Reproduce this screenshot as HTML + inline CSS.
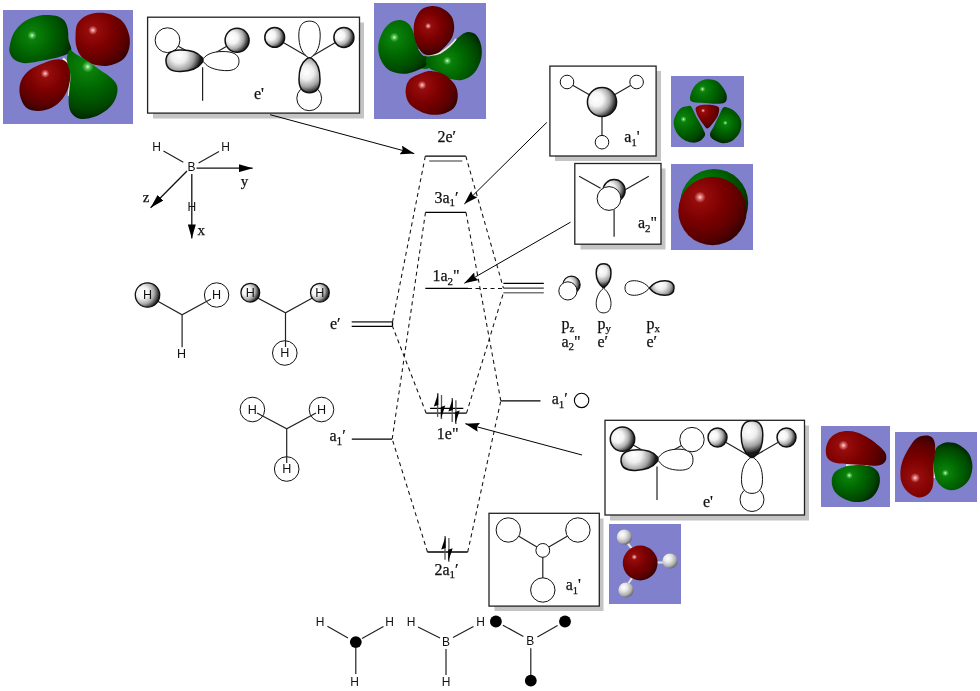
<!DOCTYPE html>
<html><head><meta charset="utf-8"><style>
html,body{margin:0;padding:0;background:#fff;width:980px;height:691px;overflow:hidden}
svg{display:block;will-change:transform}
.t{font-family:"Liberation Serif",serif;fill:#111;stroke:#111;stroke-width:0.25px}
.s{font-family:"Liberation Sans",sans-serif;fill:#111}
</style></head><body>
<svg width="980" height="691" viewBox="0 0 980 691">
<defs>
<radialGradient id="sph" cx="0.38" cy="0.36" r="0.68">
<stop offset="0" stop-color="#fff"/><stop offset="0.45" stop-color="#b8b8b8"/><stop offset="0.85" stop-color="#3a3a3a"/><stop offset="1" stop-color="#111"/>
</radialGradient>
<radialGradient id="red" cx="0.35" cy="0.35" r="0.75">
<stop offset="0" stop-color="#f4b0b0"/><stop offset="0.12" stop-color="#b02020"/><stop offset="0.5" stop-color="#800000"/><stop offset="1" stop-color="#3c0000"/>
</radialGradient>
<radialGradient id="grn" cx="0.35" cy="0.35" r="0.75">
<stop offset="0" stop-color="#b8f0b8"/><stop offset="0.12" stop-color="#20a020"/><stop offset="0.5" stop-color="#007a00"/><stop offset="1" stop-color="#003800"/>
</radialGradient>
<marker id="ah" viewBox="0 0 14 9" refX="14" refY="4.5" markerWidth="14" markerHeight="9" markerUnits="userSpaceOnUse" orient="auto">
<path d="M0,0 L14,4.5 L0,9 L2,4.5 Z" fill="#000"/>
</marker>
<marker id="ah2" viewBox="0 0 14 8" refX="14" refY="4" markerWidth="14" markerHeight="8" markerUnits="userSpaceOnUse" orient="auto"><path d="M0,0 L14,4 L0,8 Z" fill="#000"/></marker>
<radialGradient id="g1" gradientUnits="userSpaceOnUse" cx="32.1" cy="35.4" r="41.2"><stop offset="0" stop-color="#d8ffd8"/><stop offset="0.045" stop-color="#58c058"/><stop offset="0.11" stop-color="#0a800a"/><stop offset="0.45" stop-color="#006600"/><stop offset="0.8" stop-color="#004600"/><stop offset="1" stop-color="#002600"/></radialGradient>
<radialGradient id="g2" gradientUnits="userSpaceOnUse" cx="92.9" cy="30.2" r="41.8"><stop offset="0" stop-color="#ffd8d8"/><stop offset="0.045" stop-color="#d87070"/><stop offset="0.11" stop-color="#960c0c"/><stop offset="0.45" stop-color="#7c0000"/><stop offset="0.8" stop-color="#5a0000"/><stop offset="1" stop-color="#360000"/></radialGradient>
<radialGradient id="g3" gradientUnits="userSpaceOnUse" cx="45.2" cy="73.6" r="38.9"><stop offset="0" stop-color="#ffd8d8"/><stop offset="0.045" stop-color="#d87070"/><stop offset="0.11" stop-color="#960c0c"/><stop offset="0.45" stop-color="#7c0000"/><stop offset="0.8" stop-color="#5a0000"/><stop offset="1" stop-color="#360000"/></radialGradient>
<radialGradient id="g4" gradientUnits="userSpaceOnUse" cx="87.7" cy="66.7" r="52.7"><stop offset="0" stop-color="#d8ffd8"/><stop offset="0.045" stop-color="#58c058"/><stop offset="0.11" stop-color="#0a800a"/><stop offset="0.45" stop-color="#006600"/><stop offset="0.8" stop-color="#004600"/><stop offset="1" stop-color="#002600"/></radialGradient>
<radialGradient id="g5" gradientUnits="userSpaceOnUse" cx="394.3" cy="37.3" r="42.5"><stop offset="0" stop-color="#d8ffd8"/><stop offset="0.045" stop-color="#58c058"/><stop offset="0.11" stop-color="#0a800a"/><stop offset="0.45" stop-color="#006600"/><stop offset="0.8" stop-color="#004600"/><stop offset="1" stop-color="#002600"/></radialGradient>
<radialGradient id="g6" gradientUnits="userSpaceOnUse" cx="447.3" cy="60.8" r="38.7"><stop offset="0" stop-color="#d8ffd8"/><stop offset="0.045" stop-color="#58c058"/><stop offset="0.11" stop-color="#0a800a"/><stop offset="0.45" stop-color="#006600"/><stop offset="0.8" stop-color="#004600"/><stop offset="1" stop-color="#002600"/></radialGradient>
<radialGradient id="g7" gradientUnits="userSpaceOnUse" cx="428.2" cy="26.0" r="28.9"><stop offset="0" stop-color="#ffd8d8"/><stop offset="0.045" stop-color="#d87070"/><stop offset="0.11" stop-color="#960c0c"/><stop offset="0.45" stop-color="#7c0000"/><stop offset="0.8" stop-color="#5a0000"/><stop offset="1" stop-color="#360000"/></radialGradient>
<radialGradient id="g8" gradientUnits="userSpaceOnUse" cx="422.1" cy="85.1" r="39.1"><stop offset="0" stop-color="#ffd8d8"/><stop offset="0.045" stop-color="#d87070"/><stop offset="0.11" stop-color="#960c0c"/><stop offset="0.45" stop-color="#7c0000"/><stop offset="0.8" stop-color="#5a0000"/><stop offset="1" stop-color="#360000"/></radialGradient>
<radialGradient id="g9" gradientUnits="userSpaceOnUse" cx="702.5" cy="89.1" r="26.4"><stop offset="0" stop-color="#d8ffd8"/><stop offset="0.045" stop-color="#58c058"/><stop offset="0.11" stop-color="#0a800a"/><stop offset="0.45" stop-color="#006600"/><stop offset="0.8" stop-color="#004600"/><stop offset="1" stop-color="#002600"/></radialGradient>
<radialGradient id="g10" gradientUnits="userSpaceOnUse" cx="703.1" cy="110.6" r="18.3"><stop offset="0" stop-color="#ffd8d8"/><stop offset="0.045" stop-color="#d87070"/><stop offset="0.11" stop-color="#960c0c"/><stop offset="0.45" stop-color="#7c0000"/><stop offset="0.8" stop-color="#5a0000"/><stop offset="1" stop-color="#360000"/></radialGradient>
<radialGradient id="g11" gradientUnits="userSpaceOnUse" cx="683.5" cy="119.2" r="27.2"><stop offset="0" stop-color="#d8ffd8"/><stop offset="0.045" stop-color="#58c058"/><stop offset="0.11" stop-color="#0a800a"/><stop offset="0.45" stop-color="#006600"/><stop offset="0.8" stop-color="#004600"/><stop offset="1" stop-color="#002600"/></radialGradient>
<radialGradient id="g12" gradientUnits="userSpaceOnUse" cx="725.3" cy="122.9" r="20.5"><stop offset="0" stop-color="#d8ffd8"/><stop offset="0.045" stop-color="#58c058"/><stop offset="0.11" stop-color="#0a800a"/><stop offset="0.45" stop-color="#006600"/><stop offset="0.8" stop-color="#004600"/><stop offset="1" stop-color="#002600"/></radialGradient>
<radialGradient id="g13" gradientUnits="userSpaceOnUse" cx="702.3" cy="191.1" r="49.3"><stop offset="0" stop-color="#d8ffd8"/><stop offset="0.045" stop-color="#58c058"/><stop offset="0.11" stop-color="#0a800a"/><stop offset="0.45" stop-color="#006600"/><stop offset="0.8" stop-color="#004600"/><stop offset="1" stop-color="#002600"/></radialGradient>
<radialGradient id="g14" gradientUnits="userSpaceOnUse" cx="700.0" cy="197.2" r="52.0"><stop offset="0" stop-color="#ffd8d8"/><stop offset="0.045" stop-color="#d87070"/><stop offset="0.11" stop-color="#960c0c"/><stop offset="0.45" stop-color="#7c0000"/><stop offset="0.8" stop-color="#5a0000"/><stop offset="1" stop-color="#360000"/></radialGradient>
<radialGradient id="g15" gradientUnits="userSpaceOnUse" cx="849.3" cy="475.4" r="31.8"><stop offset="0" stop-color="#d8ffd8"/><stop offset="0.045" stop-color="#58c058"/><stop offset="0.11" stop-color="#0a800a"/><stop offset="0.45" stop-color="#006600"/><stop offset="0.8" stop-color="#004600"/><stop offset="1" stop-color="#002600"/></radialGradient>
<radialGradient id="g16" gradientUnits="userSpaceOnUse" cx="843.4" cy="445.4" r="44.8"><stop offset="0" stop-color="#ffd8d8"/><stop offset="0.045" stop-color="#d87070"/><stop offset="0.11" stop-color="#960c0c"/><stop offset="0.45" stop-color="#7c0000"/><stop offset="0.8" stop-color="#5a0000"/><stop offset="1" stop-color="#360000"/></radialGradient>
<radialGradient id="g17" gradientUnits="userSpaceOnUse" cx="945.3" cy="473.0" r="31.4"><stop offset="0" stop-color="#d8ffd8"/><stop offset="0.045" stop-color="#58c058"/><stop offset="0.11" stop-color="#0a800a"/><stop offset="0.45" stop-color="#006600"/><stop offset="0.8" stop-color="#004600"/><stop offset="1" stop-color="#002600"/></radialGradient>
<radialGradient id="g18" gradientUnits="userSpaceOnUse" cx="915.2" cy="477.9" r="43.9"><stop offset="0" stop-color="#ffd8d8"/><stop offset="0.045" stop-color="#d87070"/><stop offset="0.11" stop-color="#960c0c"/><stop offset="0.45" stop-color="#7c0000"/><stop offset="0.8" stop-color="#5a0000"/><stop offset="1" stop-color="#360000"/></radialGradient>
<radialGradient id="g19" gradientUnits="userSpaceOnUse" cx="634.3" cy="557.0" r="26.0"><stop offset="0" stop-color="#ffd8d8"/><stop offset="0.045" stop-color="#d87070"/><stop offset="0.11" stop-color="#960c0c"/><stop offset="0.45" stop-color="#7c0000"/><stop offset="0.8" stop-color="#5a0000"/><stop offset="1" stop-color="#360000"/></radialGradient>
<radialGradient id="g20" gradientUnits="userSpaceOnUse" cx="622.1" cy="534.5" r="10.6"><stop offset="0" stop-color="#ffffff"/><stop offset="0.35" stop-color="#e8e8e8"/><stop offset="0.75" stop-color="#b0b0b0"/><stop offset="1" stop-color="#6a6a70"/></radialGradient>
<radialGradient id="g21" gradientUnits="userSpaceOnUse" cx="667.7" cy="558.3" r="10.6"><stop offset="0" stop-color="#ffffff"/><stop offset="0.35" stop-color="#e8e8e8"/><stop offset="0.75" stop-color="#b0b0b0"/><stop offset="1" stop-color="#6a6a70"/></radialGradient>
<radialGradient id="g22" gradientUnits="userSpaceOnUse" cx="623.7" cy="587.3" r="10.6"><stop offset="0" stop-color="#ffffff"/><stop offset="0.35" stop-color="#e8e8e8"/><stop offset="0.75" stop-color="#b0b0b0"/><stop offset="1" stop-color="#6a6a70"/></radialGradient>
<radialGradient id="g23" gradientUnits="userSpaceOnUse" cx="178.8" cy="55.3" r="22.0"><stop offset="0" stop-color="#ffffff"/><stop offset="0.35" stop-color="#eeeeee"/><stop offset="0.7" stop-color="#a0a0a0"/><stop offset="0.9" stop-color="#484848"/><stop offset="1" stop-color="#1a1a1a"/></radialGradient>
<radialGradient id="g24" gradientUnits="userSpaceOnUse" cx="232.3" cy="37.8" r="17.4"><stop offset="0" stop-color="#ffffff"/><stop offset="0.33" stop-color="#f4f4f4"/><stop offset="0.64" stop-color="#acacac"/><stop offset="0.87" stop-color="#404040"/><stop offset="1" stop-color="#0a0a0a"/></radialGradient>
<radialGradient id="g25" gradientUnits="userSpaceOnUse" cx="270.7" cy="35.4" r="14.4"><stop offset="0" stop-color="#ffffff"/><stop offset="0.33" stop-color="#f4f4f4"/><stop offset="0.64" stop-color="#acacac"/><stop offset="0.87" stop-color="#404040"/><stop offset="1" stop-color="#0a0a0a"/></radialGradient>
<radialGradient id="g26" gradientUnits="userSpaceOnUse" cx="339.9" cy="35.4" r="14.5"><stop offset="0" stop-color="#ffffff"/><stop offset="0.33" stop-color="#f4f4f4"/><stop offset="0.64" stop-color="#acacac"/><stop offset="0.87" stop-color="#404040"/><stop offset="1" stop-color="#0a0a0a"/></radialGradient>
<radialGradient id="g27" gradientUnits="userSpaceOnUse" cx="306.4" cy="72.4" r="20.8"><stop offset="0" stop-color="#ffffff"/><stop offset="0.35" stop-color="#eeeeee"/><stop offset="0.7" stop-color="#a0a0a0"/><stop offset="0.9" stop-color="#484848"/><stop offset="1" stop-color="#1a1a1a"/></radialGradient>
<radialGradient id="g28" gradientUnits="userSpaceOnUse" cx="596.2" cy="99.1" r="21.2"><stop offset="0" stop-color="#ffffff"/><stop offset="0.33" stop-color="#f4f4f4"/><stop offset="0.64" stop-color="#acacac"/><stop offset="0.87" stop-color="#404040"/><stop offset="1" stop-color="#0a0a0a"/></radialGradient>
<radialGradient id="g29" gradientUnits="userSpaceOnUse" cx="609.7" cy="188.4" r="15.9"><stop offset="0" stop-color="#ffffff"/><stop offset="0.33" stop-color="#f4f4f4"/><stop offset="0.64" stop-color="#acacac"/><stop offset="0.87" stop-color="#404040"/><stop offset="1" stop-color="#0a0a0a"/></radialGradient>
<radialGradient id="g30" gradientUnits="userSpaceOnUse" cx="617.6" cy="436.7" r="17.7"><stop offset="0" stop-color="#ffffff"/><stop offset="0.33" stop-color="#f4f4f4"/><stop offset="0.64" stop-color="#acacac"/><stop offset="0.87" stop-color="#404040"/><stop offset="1" stop-color="#0a0a0a"/></radialGradient>
<radialGradient id="g31" gradientUnits="userSpaceOnUse" cx="633.9" cy="454.9" r="22.0"><stop offset="0" stop-color="#ffffff"/><stop offset="0.35" stop-color="#eeeeee"/><stop offset="0.7" stop-color="#a0a0a0"/><stop offset="0.9" stop-color="#484848"/><stop offset="1" stop-color="#1a1a1a"/></radialGradient>
<radialGradient id="g32" gradientUnits="userSpaceOnUse" cx="713.7" cy="435.6" r="13.8"><stop offset="0" stop-color="#ffffff"/><stop offset="0.33" stop-color="#f4f4f4"/><stop offset="0.64" stop-color="#acacac"/><stop offset="0.87" stop-color="#404040"/><stop offset="1" stop-color="#0a0a0a"/></radialGradient>
<radialGradient id="g33" gradientUnits="userSpaceOnUse" cx="782.7" cy="435.6" r="13.8"><stop offset="0" stop-color="#ffffff"/><stop offset="0.33" stop-color="#f4f4f4"/><stop offset="0.64" stop-color="#acacac"/><stop offset="0.87" stop-color="#404040"/><stop offset="1" stop-color="#0a0a0a"/></radialGradient>
<radialGradient id="g34" gradientUnits="userSpaceOnUse" cx="748.8" cy="431.2" r="21.8"><stop offset="0" stop-color="#ffffff"/><stop offset="0.35" stop-color="#eeeeee"/><stop offset="0.7" stop-color="#a0a0a0"/><stop offset="0.9" stop-color="#484848"/><stop offset="1" stop-color="#1a1a1a"/></radialGradient>
<radialGradient id="g35" gradientUnits="userSpaceOnUse" cx="568.1" cy="283.0" r="12.5"><stop offset="0" stop-color="#ffffff"/><stop offset="0.33" stop-color="#f4f4f4"/><stop offset="0.64" stop-color="#acacac"/><stop offset="0.87" stop-color="#404040"/><stop offset="1" stop-color="#0a0a0a"/></radialGradient>
<radialGradient id="g36" gradientUnits="userSpaceOnUse" cx="601.4" cy="271.1" r="15.1"><stop offset="0" stop-color="#ffffff"/><stop offset="0.35" stop-color="#eeeeee"/><stop offset="0.7" stop-color="#a0a0a0"/><stop offset="0.9" stop-color="#484848"/><stop offset="1" stop-color="#1a1a1a"/></radialGradient>
<radialGradient id="g37" gradientUnits="userSpaceOnUse" cx="660.7" cy="284.4" r="15.3"><stop offset="0" stop-color="#ffffff"/><stop offset="0.35" stop-color="#eeeeee"/><stop offset="0.7" stop-color="#a0a0a0"/><stop offset="0.9" stop-color="#484848"/><stop offset="1" stop-color="#1a1a1a"/></radialGradient>
<radialGradient id="g38" gradientUnits="userSpaceOnUse" cx="142.6" cy="292.6" r="17.8"><stop offset="0" stop-color="#ffffff"/><stop offset="0.33" stop-color="#f4f4f4"/><stop offset="0.64" stop-color="#acacac"/><stop offset="0.87" stop-color="#404040"/><stop offset="1" stop-color="#0a0a0a"/></radialGradient>
<radialGradient id="g39" gradientUnits="userSpaceOnUse" cx="246.5" cy="290.8" r="13.6"><stop offset="0" stop-color="#ffffff"/><stop offset="0.33" stop-color="#f4f4f4"/><stop offset="0.64" stop-color="#acacac"/><stop offset="0.87" stop-color="#404040"/><stop offset="1" stop-color="#0a0a0a"/></radialGradient>
<radialGradient id="g40" gradientUnits="userSpaceOnUse" cx="316.1" cy="290.8" r="13.6"><stop offset="0" stop-color="#ffffff"/><stop offset="0.33" stop-color="#f4f4f4"/><stop offset="0.64" stop-color="#acacac"/><stop offset="0.87" stop-color="#404040"/><stop offset="1" stop-color="#0a0a0a"/></radialGradient>
</defs>

<!-- purple backgrounds -->
<g fill="#8080cd">
<rect x="3" y="10" width="130" height="114"/>
<rect x="374" y="3" width="112" height="116"/>
<rect x="671" y="76" width="73" height="71"/>
<rect x="671" y="164" width="82" height="86"/>
<rect x="821" y="426" width="69" height="81"/>
<rect x="895" y="432" width="82" height="70"/>
<rect x="609" y="524" width="72" height="80"/>
</g>

<path d="M9.6,46.7 C10.2,43.1 11.4,37.0 13.9,32.8 C16.4,28.6 19.9,24.4 24.3,21.5 C28.7,18.6 34.8,16.4 40.0,15.4 C45.2,14.5 51.6,14.9 55.6,15.8 C59.6,16.7 62.3,18.4 64.3,20.6 C66.3,22.9 67.1,26.1 67.8,29.3 C68.5,32.5 68.0,36.5 68.6,39.7 C69.2,42.9 71.0,46.2 71.2,48.4 C71.4,50.6 71.5,51.3 69.5,52.8 C67.5,54.2 63.5,55.8 59.1,57.1 C54.8,58.4 48.9,59.6 43.4,60.6 C37.9,61.6 30.7,63.2 26.1,63.2 C21.5,63.2 18.2,62.1 15.6,60.6 C13.0,59.1 11.4,56.8 10.4,54.5 C9.4,52.2 9.0,50.3 9.6,46.7Z" fill="url(#g1)"/>
<path d="M75.6,34.5 C75.8,30.7 75.7,27.1 77.3,24.1 C78.9,21.1 81.8,18.2 85.1,16.3 C88.4,14.4 92.9,13.1 97.3,12.8 C101.7,12.5 106.8,13.0 111.2,14.6 C115.6,16.2 120.4,18.8 123.4,22.4 C126.4,26.0 128.5,31.7 129.4,36.3 C130.3,40.9 129.9,46.2 128.6,50.2 C127.3,54.2 125.1,58.0 121.6,60.6 C118.1,63.2 112.6,65.2 107.7,65.8 C102.8,66.4 96.4,65.5 92.1,64.1 C87.8,62.6 84.3,60.0 81.7,57.1 C79.1,54.2 77.4,50.5 76.4,46.7 C75.4,42.9 75.4,38.3 75.6,34.5Z" fill="url(#g2)"/>
<path d="M63,58.5 Q71,64 70.5,76 Q70,88 69,96" stroke="#f0f0e0" stroke-width="2.6" fill="none"/>
<path d="M62.5,59.7 C65.0,60.6 67.3,62.4 68.6,64.9 C69.9,67.4 70.4,70.9 70.4,74.5 C70.4,78.1 69.9,82.7 68.6,86.7 C67.3,90.8 65.2,95.3 62.5,98.8 C59.8,102.3 56.1,105.5 52.1,107.5 C48.1,109.5 42.5,111.0 38.2,111.0 C33.9,111.0 29.1,110.1 26.1,107.5 C23.1,104.9 20.9,99.6 20.0,95.3 C19.1,91.0 19.2,85.6 20.8,81.4 C22.4,77.2 25.7,73.1 29.5,70.1 C33.3,67.1 39.3,64.9 43.4,63.2 C47.5,61.5 50.7,60.3 53.9,59.7 C57.1,59.1 60.0,58.8 62.5,59.7Z" fill="url(#g3)"/>
<path d="M69.5,50.2 C71.1,49.2 73.5,52.8 76.4,54.5 C79.3,56.2 83.1,58.1 86.9,60.6 C90.7,63.1 95.0,66.4 99.0,69.3 C103.0,72.2 108.2,75.1 111.2,78.0 C114.2,80.9 116.6,83.2 117.3,86.7 C118.0,90.2 117.1,95.0 115.5,98.8 C113.9,102.5 111.3,106.2 107.7,109.2 C104.1,112.2 98.4,115.5 93.8,117.1 C89.2,118.7 83.7,119.5 79.9,118.8 C76.1,118.1 73.1,115.5 71.2,112.7 C69.3,110.0 68.9,106.3 68.6,102.3 C68.3,98.2 69.2,93.0 69.5,88.4 C69.8,83.8 70.8,79.1 70.4,74.5 C70.0,69.9 67.1,64.7 66.9,60.6 C66.8,56.6 67.9,51.2 69.5,50.2Z" fill="url(#g4)"/>
<ellipse cx="425" cy="62.5" rx="8" ry="6.5" fill="#006400"/>
<path d="M383.0,31.3 C385.1,27.5 387.9,24.5 390.8,22.6 C393.7,20.7 397.3,19.7 400.4,20.0 C403.4,20.3 406.8,21.9 409.1,24.3 C411.4,26.8 413.0,31.2 414.3,34.7 C415.6,38.2 415.8,42.0 416.9,45.2 C418.0,48.4 419.5,51.5 421.2,53.8 C422.9,56.1 426.6,57.0 427.3,59.0 C428.0,61.0 427.6,64.0 425.6,66.0 C423.6,68.0 419.0,69.9 415.2,71.2 C411.4,72.5 407.4,74.0 403.0,73.8 C398.6,73.6 392.9,72.8 389.1,70.3 C385.3,67.8 382.2,63.2 380.4,59.0 C378.6,54.8 377.9,49.8 378.3,45.2 C378.7,40.6 380.9,35.1 383.0,31.3Z" fill="url(#g5)"/>
<path d="M426.4,58.2 C428.1,55.9 435.6,55.7 439.5,53.8 C443.4,51.9 446.7,49.6 449.9,46.9 C453.1,44.1 455.7,39.8 458.6,37.3 C461.5,34.8 464.4,32.5 467.3,32.1 C470.2,31.7 473.6,32.5 475.9,34.7 C478.2,36.9 480.2,41.2 481.1,45.2 C482.0,49.2 482.2,54.4 481.1,59.0 C480.0,63.6 477.4,69.4 474.2,72.9 C471.0,76.4 466.3,79.0 462.0,79.9 C457.7,80.8 452.2,79.5 448.2,78.2 C444.1,76.9 440.9,73.8 437.7,72.1 C434.5,70.3 430.9,70.0 429.0,67.7 C427.1,65.4 424.6,60.5 426.4,58.2Z" fill="url(#g6)"/>
<path d="M419,49 Q428,58 440,53 Q451,46 456,39" stroke="#e8e8d8" stroke-width="1.6" fill="none"/>
<path d="M431.7,6.1 C435.4,5.8 439.6,7.0 442.9,8.7 C446.2,10.4 449.7,13.3 451.6,16.5 C453.5,19.7 454.2,24.2 454.2,27.8 C454.2,31.4 453.2,35.0 451.6,38.2 C450.0,41.4 447.3,44.3 444.7,46.9 C442.1,49.5 439.2,52.5 436.0,53.8 C432.8,55.1 428.5,55.6 425.6,54.7 C422.7,53.8 420.5,51.6 418.6,48.6 C416.7,45.6 415.0,40.8 414.3,36.5 C413.6,32.2 413.3,27.0 414.3,22.6 C415.3,18.2 417.5,13.2 420.4,10.4 C423.3,7.7 427.9,6.4 431.7,6.1Z" fill="url(#g7)"/>
<path d="M422.1,72.9 C426.0,71.5 428.7,70.9 432.5,71.2 C436.3,71.5 440.9,72.4 444.7,74.7 C448.5,77.0 452.9,81.3 455.1,85.1 C457.3,88.9 458.0,93.4 457.7,97.3 C457.4,101.2 456.4,105.6 453.4,108.5 C450.4,111.4 444.4,113.9 439.5,114.6 C434.6,115.3 428.7,114.6 423.8,112.9 C418.9,111.2 412.9,107.7 409.9,104.2 C406.9,100.7 405.7,96.0 405.6,92.0 C405.5,88.0 406.4,83.1 409.1,79.9 C411.9,76.7 418.2,74.4 422.1,72.9Z" fill="url(#g8)"/>
<path d="M690.2,100.1 C689.5,98.3 690.5,94.6 691.4,92.1 C692.3,89.5 694.0,86.7 695.8,84.8 C697.5,82.9 699.8,81.4 701.9,80.5 C704.0,79.6 706.2,79.1 708.7,79.2 C711.2,79.3 714.4,79.8 716.7,81.1 C719.1,82.4 721.2,85.0 722.8,87.2 C724.4,89.5 726.0,92.2 726.5,94.6 C727.0,97.0 727.1,99.9 725.9,101.4 C724.7,102.9 722.1,103.5 719.1,103.8 C716.1,104.1 712.0,103.4 708.1,103.2 C704.2,103.0 698.8,103.1 695.8,102.6 C692.8,102.1 690.9,101.8 690.2,100.1Z" fill="url(#g9)"/>
<path d="M696.4,106.9 C697.4,106.0 699.9,105.4 701.9,105.1 C703.9,104.8 705.9,104.7 708.1,104.8 C710.4,104.9 713.6,105.2 715.4,105.7 C717.2,106.2 718.7,106.5 719.1,108.1 C719.5,109.7 718.9,113.0 717.9,115.5 C716.9,118.0 714.8,120.8 713.0,122.9 C711.2,125.1 709.0,128.2 707.4,128.4 C705.8,128.6 704.6,126.0 703.1,124.1 C701.6,122.1 699.4,119.0 698.2,116.7 C697.0,114.5 696.1,112.2 695.8,110.6 C695.5,109.0 695.4,107.8 696.4,106.9Z" fill="url(#g10)"/>
<path d="M687.1,106.3 C688.8,106.1 689.8,105.0 691.4,106.9 C693.0,108.9 695.0,114.3 697.0,118.0 C699.0,121.7 701.8,126.1 703.1,129.0 C704.4,131.9 705.6,133.1 705.0,135.2 C704.4,137.2 701.5,140.1 699.4,141.3 C697.2,142.5 694.8,142.9 692.1,142.6 C689.5,142.3 686.1,141.2 683.5,139.5 C680.9,137.8 678.4,135.5 676.7,132.7 C675.1,129.9 673.7,126.0 673.6,122.9 C673.5,119.8 674.9,116.8 676.1,114.3 C677.3,111.8 679.2,109.4 681.0,108.1 C682.8,106.8 685.4,106.5 687.1,106.3Z" fill="url(#g11)"/>
<path d="M723.4,107.5 C725.0,106.3 727.0,107.4 729.0,108.1 C731.0,108.8 733.3,110.1 735.1,111.8 C736.9,113.5 739.0,115.7 740.0,118.0 C741.0,120.3 741.5,122.7 741.3,125.4 C741.1,128.1 740.4,131.3 738.8,134.0 C737.1,136.7 734.1,139.8 731.4,141.3 C728.7,142.8 725.7,143.4 722.8,143.2 C719.9,143.0 716.4,141.5 714.2,140.1 C712.1,138.7 709.9,137.0 709.9,134.6 C709.9,132.2 712.7,128.6 714.2,125.4 C715.7,122.2 717.6,118.5 719.1,115.5 C720.6,112.5 721.8,108.7 723.4,107.5Z" fill="url(#g12)"/>
<circle cx="714.2" cy="203.0" r="34.0" fill="url(#g13)"/>
<circle cx="712.5" cy="211" r="34.2" fill="url(#g14)"/>
<path d="M846,465.5H868" stroke="#f0f0d8" stroke-width="2.5"/>
<path d="M834.9,472.1 C837.0,469.7 840.4,468.1 844.1,466.9 C847.8,465.7 852.8,465.1 857.1,465.0 C861.4,464.9 866.6,465.1 870.1,466.3 C873.6,467.5 876.4,469.6 878.0,472.1 C879.6,474.6 880.1,477.9 879.9,481.2 C879.7,484.5 878.5,488.6 876.6,491.7 C874.8,494.8 872.0,497.8 868.8,499.5 C865.5,501.2 861.0,502.1 857.1,502.1 C853.2,502.1 849.1,501.2 845.4,499.5 C841.7,497.8 837.2,494.8 834.9,491.7 C832.6,488.6 831.7,484.5 831.7,481.2 C831.7,477.9 832.8,474.5 834.9,472.1Z" fill="url(#g15)"/>
<path d="M825.8,450.0 C825.9,447.1 826.9,443.4 828.4,440.8 C829.9,438.2 832.1,435.9 834.9,434.3 C837.7,432.7 841.7,431.4 845.4,431.1 C849.1,430.8 853.2,431.2 857.1,432.4 C861.0,433.6 865.1,435.9 868.8,438.2 C872.5,440.5 876.4,443.5 879.2,446.1 C882.0,448.7 884.8,451.3 885.8,453.9 C886.8,456.5 886.4,459.8 885.1,461.7 C883.8,463.6 881.3,465.1 877.9,465.6 C874.5,466.2 869.4,465.2 864.9,465.0 C860.4,464.8 855.4,464.6 850.6,464.3 C845.8,464.0 840.0,464.0 836.2,463.0 C832.4,462.0 829.5,460.6 827.8,458.4 C826.1,456.2 825.7,452.9 825.8,450.0Z" fill="url(#g16)"/>
<path d="M934,455V478" stroke="#f0f0d8" stroke-width="2.5"/>
<path d="M934.9,451.4 C935.8,448.0 937.1,446.8 939.2,445.3 C941.4,443.8 944.5,442.3 947.8,442.2 C951.1,442.1 955.4,442.8 958.9,444.7 C962.4,446.6 966.5,449.8 968.7,453.3 C971.0,456.8 972.2,461.5 972.4,465.6 C972.6,469.7 971.5,474.4 969.9,477.9 C968.2,481.4 965.6,484.4 962.5,486.5 C959.4,488.6 955.0,490.2 951.5,490.2 C948.0,490.2 944.3,488.6 941.6,486.5 C938.9,484.4 936.8,481.4 935.5,477.9 C934.2,474.4 933.7,470.0 933.6,465.6 C933.5,461.2 934.0,454.8 934.9,451.4Z" fill="url(#g17)"/>
<path d="M925.7,435.5 C928.2,435.4 930.3,436.0 931.8,437.3 C933.3,438.6 934.4,440.7 934.9,443.4 C935.4,446.1 935.1,449.6 934.9,453.3 C934.7,457.0 933.8,461.7 933.6,465.6 C933.4,469.5 933.8,472.9 933.6,476.6 C933.4,480.3 933.5,484.6 932.4,487.7 C931.3,490.8 929.2,493.5 926.9,495.1 C924.5,496.7 921.4,497.9 918.3,497.5 C915.2,497.1 911.2,495.1 908.4,492.6 C905.6,490.2 903.0,486.5 901.7,482.8 C900.4,479.1 900.2,474.6 900.5,470.5 C900.8,466.4 901.9,462.3 903.5,458.2 C905.1,454.1 908.0,449.3 910.3,445.9 C912.5,442.5 914.4,439.6 917.0,437.9 C919.6,436.2 923.2,435.6 925.7,435.5Z" fill="url(#g18)"/>
<g stroke="#e0e0e8" stroke-width="2.2"><path d="M627.5,543L632,549 M656,562.5H664 M632,578L628,584"/></g>
<circle cx="640.2" cy="563" r="17.4" fill="url(#g19)"/>
<circle cx="624.4" cy="537.2" r="7.6" fill="url(#g20)"/>
<circle cx="670.0" cy="561.0" r="7.6" fill="url(#g21)"/>
<circle cx="626.0" cy="590.0" r="7.6" fill="url(#g22)"/>
<!-- box shadows -->
<g fill="#c4c4c4">
<rect x="153" y="22.5" width="211" height="96"/>
<rect x="555" y="71" width="106" height="90"/>
<rect x="580.5" y="168.5" width="85" height="81"/>
<rect x="610" y="425.5" width="199" height="95"/>
<rect x="494.5" y="518.5" width="109" height="92.5"/>
</g>
<!-- boxes -->
<g fill="#fff" stroke="#222" stroke-width="1.3">
<rect x="147.6" y="17.2" width="211.9" height="95.9"/>
<rect x="549.9" y="66.1" width="106.2" height="89.9"/>
<rect x="574.8" y="163.5" width="86.2" height="80.7"/>
<rect x="605" y="420.3" width="199.5" height="94.7"/>
<rect x="489" y="513.3" width="110.3" height="92.8"/>
</g>

<path d="M167.5,40.2L203,60 M237.1,40.2L203,60 M202.6,67.3V100.7" stroke="#222" stroke-width="1.2" fill="none"/>
<circle cx="167.5" cy="40.2" r="12.4" fill="#fff" stroke="#111" stroke-width="1.0"/>
<path d="M201.4,57.0 C197.7,52.4 190.5,49.6 179.8,50.0 C169.9,50.3 165.8,54.6 166.0,61.2 C166.3,67.9 170.7,71.8 180.6,71.5 C191.2,71.1 198.2,67.9 201.6,63.0 C203.7,61.7 203.5,58.1 201.4,57.0 Z" fill="url(#g23)" stroke="#111" stroke-width="1.5"/>
<path d="M204.4,62.8 C207.6,67.0 214.3,70.0 224.7,70.6 C234.3,71.1 238.6,67.7 239.0,61.8 C239.3,55.9 235.3,52.1 225.7,51.6 C215.3,51.1 208.3,53.3 204.6,57.2 C202.6,58.2 202.5,61.6 204.4,62.8 Z" fill="#fff" stroke="#111" stroke-width="1.0"/>
<circle cx="237.1" cy="40.2" r="12.0" fill="url(#g24)" stroke="#111" stroke-width="1.5"/>
<path d="M274.7,37.4L309.5,57.7 M343.9,37.4L309.5,57.7" stroke="#222" stroke-width="1.2" fill="none"/>
<circle cx="274.7" cy="37.4" r="9.9" fill="url(#g25)" stroke="#111" stroke-width="1.5"/>
<circle cx="343.9" cy="37.4" r="10.0" fill="url(#g26)" stroke="#111" stroke-width="1.5"/>
<path d="M312.3,56.2 C317.2,52.7 320.2,45.7 320.2,35.1 C320.2,25.3 316.2,21.1 309.5,21.1 C302.8,21.1 298.8,25.3 298.8,35.1 C298.8,45.7 301.8,52.7 306.7,56.2 C307.8,58.2 311.2,58.2 312.3,56.2 Z" fill="#fff" stroke="#111" stroke-width="1.0"/>
<circle cx="309.2" cy="98.3" r="12.4" fill="#fff" stroke="#111" stroke-width="1.0"/>
<path d="M306.5,59.2 C301.9,62.6 299.0,69.2 299.0,79.3 C299.0,88.7 303.0,92.7 309.5,92.7 C316.0,92.7 320.0,88.7 320.0,79.3 C320.0,69.2 317.1,62.6 312.5,59.2 C311.3,57.1 307.7,57.1 306.5,59.2 Z" fill="url(#g27)" stroke="#111" stroke-width="1.5"/>
<path d="M602,102L567,82 M602,102L636.6,82 M602,102V142" stroke="#222" stroke-width="1.2" fill="none"/>
<circle cx="567.0" cy="82.0" r="6.8" fill="#fff" stroke="#111" stroke-width="1.0"/>
<circle cx="636.6" cy="82.0" r="6.8" fill="#fff" stroke="#111" stroke-width="1.0"/>
<circle cx="602.0" cy="142.2" r="6.8" fill="#fff" stroke="#111" stroke-width="1.0"/>
<circle cx="602.0" cy="102.0" r="14.6" fill="url(#g28)" stroke="#111" stroke-width="1.5"/>
<path d="M579.1,176.3L600.6,188.2 M648.8,176.3L625.2,189.8 M614.1,209.7V236.7" stroke="#222" stroke-width="1.2" fill="none"/>
<circle cx="614.1" cy="190.6" r="11.0" fill="url(#g29)" stroke="#111" stroke-width="1.5"/>
<circle cx="609.0" cy="198.5" r="11.9" fill="#fff" stroke="#111" stroke-width="1.0"/>
<path d="M622.5,439.1L658,459 M692,439.6L658,459 M657,466.6V499.9" stroke="#222" stroke-width="1.2" fill="none"/>
<circle cx="622.5" cy="439.1" r="12.2" fill="url(#g30)" stroke="#111" stroke-width="1.5"/>
<path d="M656.3,456.0 C652.6,451.8 645.3,449.3 634.7,449.9 C624.8,450.4 620.7,454.5 621.0,460.9 C621.4,467.2 625.8,470.9 635.8,470.4 C646.4,469.8 653.3,466.6 656.7,462.0 C658.7,460.7 658.5,457.1 656.3,456.0 Z" fill="url(#g31)" stroke="#111" stroke-width="1.5"/>
<path d="M659.4,461.8 C662.6,466.7 669.2,469.8 679.2,470.2 C688.6,470.5 692.8,466.7 693.0,460.2 C693.2,453.7 689.3,449.5 680.0,449.2 C669.9,448.9 663.1,451.6 659.6,456.2 C657.6,457.3 657.5,460.6 659.4,461.8 Z" fill="#fff" stroke="#111" stroke-width="1.0"/>
<circle cx="692.0" cy="439.6" r="12.2" fill="#fff" stroke="#111" stroke-width="1.0"/>
<path d="M717.5,437.5L752,457.4 M786.5,437.5L752,457.4" stroke="#222" stroke-width="1.2" fill="none"/>
<circle cx="717.5" cy="437.5" r="9.5" fill="url(#g32)" stroke="#111" stroke-width="1.5"/>
<circle cx="786.5" cy="437.5" r="9.5" fill="url(#g33)" stroke="#111" stroke-width="1.5"/>
<circle cx="752.0" cy="499.5" r="12.0" fill="#fff" stroke="#111" stroke-width="1.0"/>
<path d="M749.2,458.9 C744.4,462.3 741.5,469.2 741.5,479.6 C741.5,489.3 745.5,493.4 752.0,493.4 C758.5,493.4 762.5,489.3 762.5,479.6 C762.5,469.2 759.6,462.3 754.8,458.9 C753.7,456.9 750.3,456.9 749.2,458.9 Z" fill="#fff" stroke="#111" stroke-width="1.0"/>
<path d="M755.0,455.9 C759.8,452.4 762.8,445.4 762.8,434.8 C762.8,425.0 758.7,420.8 752.0,420.8 C745.3,420.8 741.2,425.0 741.2,434.8 C741.2,445.4 744.2,452.4 749.0,455.9 C750.2,458.0 753.8,458.0 755.0,455.9 Z" fill="url(#g34)" stroke="#111" stroke-width="1.5"/>
<path d="M542.8,550.4L508.3,530 M542.8,550.4L577.9,530 M542.8,550.4V590" stroke="#222" stroke-width="1.2" fill="none"/>
<circle cx="508.3" cy="530.0" r="12.2" fill="#fff" stroke="#111" stroke-width="1.0"/>
<circle cx="577.9" cy="530.0" r="12.2" fill="#fff" stroke="#111" stroke-width="1.0"/>
<circle cx="542.8" cy="590.0" r="12.2" fill="#fff" stroke="#111" stroke-width="1.0"/>
<circle cx="542.8" cy="550.4" r="6.9" fill="#fff" stroke="#111" stroke-width="1.0"/>
<circle cx="571.5" cy="284.7" r="8.6" fill="url(#g35)" stroke="#111" stroke-width="1.3"/>
<circle cx="567.9" cy="290.9" r="9.1" fill="#fff" stroke="#111" stroke-width="1.0"/>
<path d="M603.6,288.1 C608.0,284.7 611.0,278.9 611.0,273.0 C611.0,266.7 608.2,263.8 603.6,263.8 C599.0,263.8 596.2,266.7 596.2,273.0 C596.2,278.9 599.2,284.7 603.6,288.1 Z" fill="url(#g36)" stroke="#111" stroke-width="1.5"/>
<path d="M603.6,288.1 C599.2,291.6 596.2,297.5 596.2,303.5 C596.2,309.9 599.0,312.9 603.6,312.9 C608.2,312.9 611.0,309.9 611.0,303.5 C611.0,297.5 608.0,291.6 603.6,288.1 Z" fill="#fff" stroke="#111" stroke-width="1.0"/>
<path d="M649.4,288.0 C646.0,283.6 640.1,280.7 634.3,280.7 C627.9,280.7 625.0,283.5 625.0,288.0 C625.0,292.5 627.9,295.3 634.3,295.3 C640.1,295.3 646.0,292.4 649.4,288.0 Z" fill="#fff" stroke="#111" stroke-width="1.0"/>
<path d="M649.4,288.0 C652.8,292.4 658.7,295.3 664.7,295.3 C671.0,295.3 674.0,292.5 674.0,288.0 C674.0,283.5 671.0,280.7 664.7,280.7 C658.7,280.7 652.8,283.6 649.4,288.0 Z" fill="url(#g37)" stroke="#111" stroke-width="1.5"/>
<circle cx="216.6" cy="295.0" r="12.2" fill="#fff" stroke="#111" stroke-width="1.0"/>
<path d="M152,298L182.1,314.7L211,299 M182.1,314.7V347.3" stroke="#222" stroke-width="1.2" fill="none"/>
<circle cx="147.5" cy="295.0" r="12.2" fill="url(#g38)" stroke="#111" stroke-width="1.3"/>
<circle cx="284.8" cy="353.0" r="12.3" fill="#fff" stroke="#111" stroke-width="1.0"/>
<path d="M254,296L285.5,312.7L316,296 M285.5,312.7V347" stroke="#222" stroke-width="1.2" fill="none"/>
<circle cx="250.3" cy="292.7" r="9.4" fill="url(#g39)" stroke="#111" stroke-width="1.3"/>
<circle cx="319.9" cy="292.7" r="9.4" fill="url(#g40)" stroke="#111" stroke-width="1.3"/>
<circle cx="252.4" cy="409.5" r="12.3" fill="#fff" stroke="#111" stroke-width="1.0"/>
<circle cx="321.5" cy="409.5" r="12.3" fill="#fff" stroke="#111" stroke-width="1.0"/>
<circle cx="286.7" cy="469.0" r="12.3" fill="#fff" stroke="#111" stroke-width="1.0"/>
<path d="M257,413L286.7,428.8L316,413 M286.7,428.8V463" stroke="#222" stroke-width="1.2" fill="none"/>
<text x="147.5" y="299.4" text-anchor="middle" class="s" font-size="12.6">H</text>
<text x="216.6" y="299.4" text-anchor="middle" class="s" font-size="12.6">H</text>
<text x="250.3" y="297.1" text-anchor="middle" class="s" font-size="12.6">H</text>
<text x="319.9" y="297.1" text-anchor="middle" class="s" font-size="12.6">H</text>
<text x="284.8" y="357.4" text-anchor="middle" class="s" font-size="12.6">H</text>
<text x="252.4" y="413.9" text-anchor="middle" class="s" font-size="12.6">H</text>
<text x="321.5" y="413.9" text-anchor="middle" class="s" font-size="12.6">H</text>
<text x="286.7" y="473.4" text-anchor="middle" class="s" font-size="12.6">H</text>
<text x="181.5" y="358.4" text-anchor="middle" class="s" font-size="12.5">H</text>
<path d="M163.5,151L183.3,162.2 M198.6,162.9L219,151.6" stroke="#222" stroke-width="1.2" fill="none"/>
<g stroke="#111" stroke-width="1.3" fill="none" marker-end="url(#ah2)"><path d="M196.5,168.2H252.7"/><path d="M187,171L150.6,207.8"/><path d="M191.8,174V238.4"/></g>
<text x="156.7" y="151.0" text-anchor="middle" class="s" font-size="12">H</text>
<text x="225.7" y="151.0" text-anchor="middle" class="s" font-size="12">H</text>
<text x="191.4" y="171.0" text-anchor="middle" class="s" font-size="12">B</text>
<text x="191.8" y="211.0" text-anchor="middle" class="s" font-size="12">H</text>
<g class="t" font-size="15"><text x="244.5" y="186" text-anchor="middle">y</text><text x="146" y="201.5" text-anchor="middle">z</text><text x="201.2" y="235" text-anchor="middle">x</text></g>
<path d="M327.4,626.2L348,638 M383.5,626.5L362,638.5 M355.8,648V674" stroke="#222" stroke-width="1.2" fill="none"/>
<circle cx="355.8" cy="642.1" r="5.9" fill="#000"/>
<path d="M418,627L440,638 M473.5,626.5L453,637.5 M446,649V675" stroke="#222" stroke-width="1.2" fill="none"/>
<path d="M502.9,625.2L523.4,636.6 M557.6,625.6L537.4,637.1 M530.8,648.2V675.7" stroke="#222" stroke-width="1.2" fill="none"/>
<circle cx="495.9" cy="621.5" r="5.9" fill="#000"/>
<circle cx="565.0" cy="621.5" r="5.9" fill="#000"/>
<circle cx="530.8" cy="680.7" r="5.9" fill="#000"/>
<text x="320.1" y="625.6" text-anchor="middle" class="s" font-size="12">H</text>
<text x="389.5" y="625.9" text-anchor="middle" class="s" font-size="12">H</text>
<text x="354.7" y="685.9" text-anchor="middle" class="s" font-size="12">H</text>
<text x="411.0" y="625.7" text-anchor="middle" class="s" font-size="12">H</text>
<text x="480.7" y="625.7" text-anchor="middle" class="s" font-size="12">H</text>
<text x="446.0" y="645.8" text-anchor="middle" class="s" font-size="12">B</text>
<text x="446.0" y="686.1" text-anchor="middle" class="s" font-size="12">H</text>
<text x="530.2" y="644.7" text-anchor="middle" class="s" font-size="12">B</text>
<!-- levels -->
<g stroke="#000" stroke-width="1.3" fill="none">
<path d="M425.3,156.2H465.8 M425.5,212.4H466 M425.3,288.4H468 M426.2,413.2H466.5 M430.1,408.3H463.3 M427.5,552H467.7"/>
<path d="M351.7,326.4H392.5 M351.8,439.1H392 M392.5,321.8V326.4"/><path d="M351.7,321.9H392.5" stroke="#555" stroke-width="1.6"/>
<path d="M503.4,283.4H543.8 M500.8,400.8H540.5"/>
</g>
<g stroke="#777" stroke-width="1.3" fill="none">
<path d="M429.2,161H462.3 M503.4,292.8H543.8" stroke-width="1.6"/><path d="M503.4,288.2H543.8" stroke="#3a3a3a"/>
</g>
<!-- dashed correlation lines -->
<g stroke="#111" stroke-width="1.05" stroke-dasharray="4 3.5" fill="none">
<path d="M425.3,156.2L392.5,321.9 M465.8,156.2L503.4,288 M425.5,212.4L392.2,439 M466,212.4L500.8,400.8 M426.2,413.2L392.5,326.4 M466.5,413.2L503.4,293 M427.5,552L392.2,439 M467.7,552L500.8,400.8 M468,288.4H502.8"/>
</g>
<!-- arrows -->
<g stroke="#000" stroke-width="1.0" fill="none" marker-end="url(#ah)">
<path d="M270.1,114.7L414.3,153.6"/>
<path d="M546.8,122.4L464.3,204"/>
<path d="M570.5,222.2L464.3,283.3"/>
<path d="M582,455L465.3,423.7"/>
</g>

<!-- labels -->
<g class="t" font-size="16">
<text x="437.5" y="142">2e′</text>
<text x="434.5" y="202.7">3a<tspan font-size="11" dy="3.5">1</tspan><tspan dy="-3.5">′</tspan></text>
<text x="432.5" y="281">1a<tspan font-size="11" dy="3.5">2</tspan><tspan dy="-3.5">"</tspan></text>
<text x="436.8" y="438.7">1e"</text>
<text x="434.4" y="574.6">2a<tspan font-size="11" dy="3.5">1</tspan><tspan dy="-3.5">′</tspan></text>
<text x="330" y="329">e′</text>
<text x="329.4" y="441">a<tspan font-size="11.5" dy="3.6">1</tspan><tspan dy="-3.5">′</tspan></text>
<text x="551.7" y="404">a<tspan font-size="11" dy="3.5">1</tspan><tspan dy="-3.5">′</tspan></text>
<text x="254" y="99">e'</text>
<text x="624.3" y="141.7">a<tspan font-size="10.5" dy="4">1</tspan><tspan dy="-4">'</tspan></text>
<text x="638" y="228">a<tspan font-size="11" dy="3.5">2</tspan><tspan dy="-3.5">"</tspan></text>
<text x="703" y="506.8">e'</text>
<text x="565.7" y="589.6">a<tspan font-size="10.5" dy="4">1</tspan><tspan dy="-4">'</tspan></text>
<text x="561.4" y="329.2">p<tspan font-size="11" dy="3">z</tspan></text>
<text x="597.4" y="329.2">p<tspan font-size="11" dy="3">y</tspan></text>
<text x="646.4" y="329.2">p<tspan font-size="11" dy="3">x</tspan></text>
<text x="561.4" y="346.8">a<tspan font-size="11" dy="3.5">2</tspan><tspan dy="-3.5">"</tspan></text>
<text x="597.4" y="346.8">e′</text>
<text x="646.4" y="346.8">e′</text>
</g>
<circle cx="581.6" cy="400.4" r="7.2" fill="#fff" stroke="#000" stroke-width="1.1"/>

<path d="M437.6,416.9V393.1" stroke="#555" stroke-width="1.3"/><path d="M438.3,393.1L433.8,406.6L438.3,405.1Z" fill="#000"/>
<path d="M441.5,395.1V418.9" stroke="#555" stroke-width="1.3"/><path d="M440.8,418.9L445.3,405.4L440.8,406.9Z" fill="#000"/>
<path d="M452.2,422.1V398.0" stroke="#555" stroke-width="1.3"/><path d="M452.9,398.0L448.4,411.5L452.9,410.0Z" fill="#000"/>
<path d="M455.9,400.3V424.1" stroke="#555" stroke-width="1.3"/><path d="M455.2,424.1L459.7,410.6L455.2,412.1Z" fill="#000"/>
<path d="M445.0,559.8V536.1" stroke="#555" stroke-width="1.3"/><path d="M445.7,536.1L441.2,549.6L445.7,548.1Z" fill="#000"/>
<path d="M448.9,538.1V561.8" stroke="#555" stroke-width="1.3"/><path d="M448.2,561.8L452.7,548.3L448.2,549.8Z" fill="#000"/>
</svg>
</body></html>
